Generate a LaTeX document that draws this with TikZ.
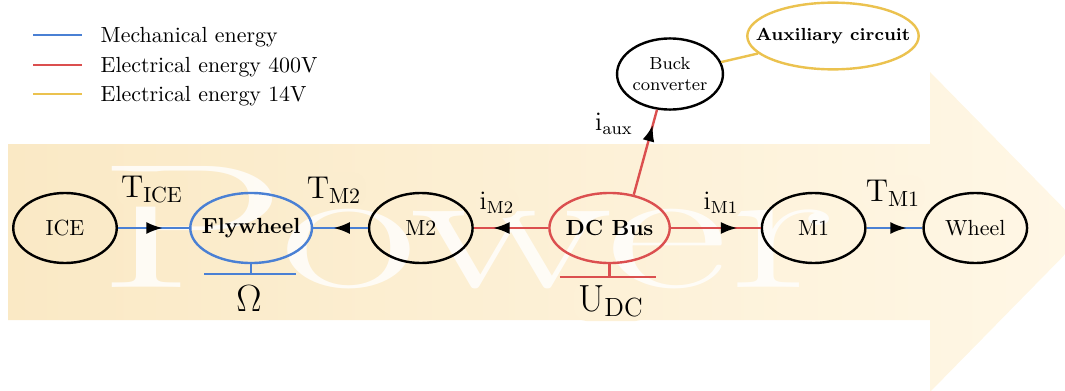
\documentclass[tikz,border=0pt]{standalone}
\usepackage{graphicx}
\usepackage{xcolor}
\usetikzlibrary{positioning, arrows.meta, shapes.geometric, decorations.markings}

\definecolor{mechblue}{RGB}{74,128,212}
\definecolor{elecred}{RGB}{219,79,79}
\definecolor{auxyellow}{RGB}{235,194,79}
\definecolor{bandL}{RGB}{250,233,197}
\definecolor{bandR}{RGB}{255,247,230}

\begin{document}
\begin{tikzpicture}[
                x=0.457pt, y=-0.457pt,
                unit/.style={ellipse, draw=black, line width=1.1pt, inner sep=0pt, minimum width=47.3pt, minimum height=32pt},
                store/.style={unit, font=\bfseries, inner xsep=-2.8pt, minimum width=55pt},
                mech/.style={draw=mechblue, line width=1.1pt},
                elec/.style={draw=elecred, line width=1.1pt},
                low/.style={draw=auxyellow, line width=1.1pt},
                flow/.style={postaction={decorate}, decoration={markings, mark=at position #1 with {\arrow{Latex[length=7.5pt, width=5.5pt, color=black]}}}},
                lbl/.style={fill=bandR!#1!bandL, rounded corners=6pt, inner sep=2pt},
                ]

                \useasboundingbox (0,0) rectangle (1065,391);
                \clip (0,0) rectangle (1065,391);

                % Background arrow with watermark
                \path[left color=bandL, right color=bandR] (8,144) -- (930,144) -- (930,72) -- (1087,232) -- (930,392) -- (930,320) -- (8,320) -- cycle;
                \node[text=white, text opacity=0.8, font=\fontsize{81}{81}\selectfont, anchor=base, inner sep=0pt] (watermark) at (466,287) {\scalebox{1.71}[1]{Power}};

                % Legend
                \coordinate (mechkeyA) at (33,35);
                \coordinate (mechkeyB) at (82,35);
                \coordinate (hvkeyA) at (33,65);
                \coordinate (hvkeyB) at (82,65);
                \coordinate (lvkeyA) at (33,94);
                \coordinate (lvkeyB) at (82,94);
                \draw[mech] (mechkeyA) -- (mechkeyB);
                \draw[elec] (hvkeyA) -- (hvkeyB);
                \draw[low] (lvkeyA) -- (lvkeyB);
                \node[anchor=base west] (mechkey) at (93,42) {Mechanical energy};
                \node[anchor=base west] (hvkey) at (93,72) {Electrical energy 400V};
                \node[anchor=base west] (lvkey) at (93,101) {Electrical energy 14V};

                % Power chain
                \node [unit] (ice) at (65,228) {ICE};
                \node [store, draw=mechblue, right=32.5pt of ice] (flywheel) {Flywheel};
                \node [unit, right=25pt of flywheel] (m2) {M2};
                \node [store, draw=elecred, right=34pt of m2] (dcbus) {DC Bus};
                \node [unit, right=41pt of dcbus] (m1) {M1};
                \node [unit, right=25.5pt of m1] (wheel) {Wheel};

                % Auxiliary branch
                \node [unit, font=\footnotesize, align=center, minimum width=47pt, minimum height=32.5pt] (buck) at (670,74) {Buck\\converter};
                \node [unit, draw=auxyellow, font=\footnotesize\bfseries, inner xsep=-7.6pt, minimum width=72pt, minimum height=30.5pt] (auxc) at (833,36) {Auxiliary circuit};

                % Energy flows
                \draw[mech, flow=0.63] (ice) -- (flywheel);
                \draw[mech, flow=0.63] (m2) -- (flywheel);
                \draw[elec, flow=0.74] (dcbus) -- (m2);
                \draw[elec, flow=0.74] (dcbus) -- (m1);
                \draw[mech, flow=0.72] (m1) -- (wheel);
                \draw[elec, flow=0.82] (dcbus.54) -- (buck.250);
                \draw[low] (buck) -- (auxc);

                % State variables
                \draw[mech] (flywheel.south) -- ++(0,10) coordinate (flyshaft) ++(-47,0) -- ++(92,0);
                \draw[elec] (dcbus.south) -- ++(0,13) coordinate (busrail) ++(-50,0) -- ++(96,0);

                \node[lbl=13, font=\Large] (tice) at (152,189) {$\mathrm{T}_{\mathrm{ICE}}$};
                \node[lbl=30, font=\Large] (tmtwo) at (334,190) {$\mathrm{T}_{\mathrm{M2}}$};
                \node[lbl=45, font=\large] (imtwo) at (497,203) {$\mathrm{i}_{\mathrm{M2}}$};
                \node[lbl=66, font=\large] (imone) at (721,203) {$\mathrm{i}_{\mathrm{M1}}$};
                \node[lbl=82, font=\Large] (tmone) at (893,193) {$\mathrm{T}_{\mathrm{M1}}$};
                \node[font=\large] (iaux) at (614,124) {$\mathrm{i}_{\mathrm{aux}}$};
                \node[lbl=22, font=\LARGE] (omega) at (249,299) {$\Omega$};
                \node[lbl=56, font=\LARGE] (udc) at (611,301) {$\mathrm{U}_{\mathrm{DC}}$};

\end{tikzpicture}
\end{document}
